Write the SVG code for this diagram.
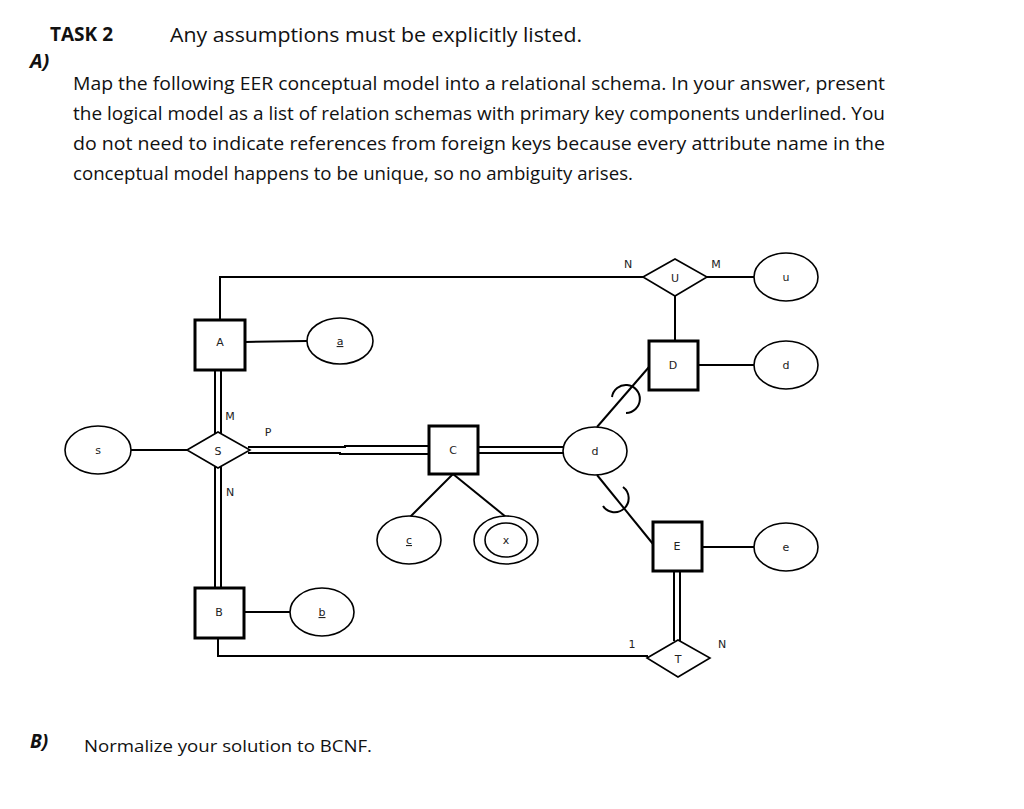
<svg xmlns="http://www.w3.org/2000/svg" width="1024" height="809" viewBox="0 0 1024 809">
<style>
.t{font-family:"Open Sans","Liberation Sans",sans-serif;fill:#111}
.l{font-family:"DejaVu Sans","Liberation Sans",sans-serif;font-size:11px;fill:#222;text-anchor:middle}
.e{fill:#fff;stroke:#000;stroke-width:1.6}
.b{fill:#fff;stroke:#000;stroke-width:3}
.c line,.c path,.c polyline{stroke:#000;stroke-width:2;fill:none}
</style>
<rect width="1024" height="809" fill="#fff"/>
<text class="t" x="50" y="41" font-size="19" font-weight="bold">TASK 2</text>
<text class="t" x="170" y="42" font-size="20" textLength="412" lengthAdjust="spacingAndGlyphs">Any assumptions must be explicitly listed.</text>
<text class="t" x="30" y="68" font-size="20" font-weight="bold" font-style="italic">A)</text>
<g class="t" font-size="18">
<text x="73" y="90" textLength="812" lengthAdjust="spacingAndGlyphs">Map the following EER conceptual model into a relational schema. In your answer, present</text>
<text x="73" y="120" textLength="812" lengthAdjust="spacingAndGlyphs">the logical model as a list of relation schemas with primary key components underlined. You</text>
<text x="73" y="150" textLength="812" lengthAdjust="spacingAndGlyphs">do not need to indicate references from foreign keys because every attribute name in the</text>
<text x="73" y="180" textLength="560" lengthAdjust="spacingAndGlyphs">conceptual model happens to be unique, so no ambiguity arises.</text>
</g>
<text class="t" x="30" y="748" font-size="19" font-weight="bold" font-style="italic">B)</text>
<text class="t" x="84" y="752" font-size="17" textLength="288" lengthAdjust="spacingAndGlyphs">Normalize your solution to BCNF.</text>
<g class="c" id="connectors">
<polyline points="220,320 220,277 643,277"/>
<polyline points="218,638 218,656 648,656"/>
<line x1="245" y1="342" x2="307" y2="341"/>
<line x1="131" y1="450" x2="187" y2="450"/>
<line x1="244" y1="612" x2="290" y2="612"/>
<line x1="707" y1="277" x2="754" y2="277"/>
<line x1="675" y1="296" x2="675" y2="341"/>
<line x1="698" y1="365" x2="754" y2="365"/>
<line x1="702" y1="547" x2="754" y2="547"/>
<line x1="597" y1="427" x2="649" y2="367"/>
<line x1="597" y1="475" x2="653" y2="544"/>
<line x1="453" y1="474" x2="410" y2="517"/>
<line x1="453" y1="474" x2="506" y2="517"/>
<line x1="215" y1="370" x2="215" y2="435"/><line x1="221" y1="370" x2="221" y2="435"/>
<line x1="215" y1="465" x2="215" y2="588"/><line x1="221" y1="465" x2="221" y2="588"/>
<polyline points="248,447 345,447 345,446 429,446"/><polyline points="248,453 340,453 340,454 429,454"/>
<line x1="478" y1="447" x2="563" y2="447"/><line x1="478" y1="453" x2="563" y2="453"/>
<line x1="674" y1="571" x2="674" y2="641"/><line x1="680" y1="571" x2="680" y2="641"/>
<path d="M612 397 A14 14 0 1 1 626 413"/>
<path d="M623 487 A14 14 0 1 1 603 506"/>
</g>
<g class="l">
<text x="230" y="420">M</text><text x="268" y="436">P</text><text x="230" y="496">N</text>
<text x="628" y="268">N</text><text x="716" y="268">M</text>
<text x="632" y="648">1</text><text x="722" y="648">N</text>
</g>
<g id="A"><rect class="b" x="195" y="320" width="50" height="50"/><text class="l" x="220" y="346">A</text></g>
<g id="B"><rect class="b" x="195" y="588" width="49" height="50"/><text class="l" x="219" y="616">B</text></g>
<g id="C"><rect class="b" x="429" y="426" width="49" height="48"/><text class="l" x="453" y="454">C</text></g>
<g id="D"><rect class="b" x="649" y="341" width="49" height="49"/><text class="l" x="673" y="369">D</text></g>
<g id="E"><rect class="b" x="653" y="522" width="49" height="49"/><text class="l" x="677" y="550">E</text></g>
<g id="S"><polygon class="e" points="187,450 218,432 250,450 218,468"/><text class="l" x="218" y="455">S</text></g>
<g id="U"><polygon class="e" points="643,277 675,259 707,277 675,296"/><text class="l" x="675" y="282">U</text></g>
<g id="T"><polygon class="e" points="647,658 678,640 710,658 678,677"/><text class="l" x="678" y="663">T</text></g>
<g id="attr_a"><ellipse class="e" cx="340" cy="341" rx="33" ry="23"/><text class="l" x="340" y="345" text-decoration="underline">a</text></g>
<g id="attr_s"><ellipse class="e" cx="98" cy="450" rx="33" ry="24"/><text class="l" x="98" y="454">s</text></g>
<g id="attr_b"><ellipse class="e" cx="322" cy="612" rx="32" ry="24"/><text class="l" x="322" y="616" text-decoration="underline">b</text></g>
<g id="attr_u"><ellipse class="e" cx="786" cy="277" rx="32" ry="24"/><text class="l" x="786" y="281">u</text></g>
<g id="attr_d"><ellipse class="e" cx="786" cy="365" rx="32" ry="24"/><text class="l" x="786" y="369">d</text></g>
<g id="attr_e"><ellipse class="e" cx="786" cy="547" rx="32" ry="24"/><text class="l" x="786" y="551">e</text></g>
<g id="disjoint_d"><ellipse class="e" cx="595" cy="451" rx="32" ry="24"/><text class="l" x="595" y="455">d</text></g>
<g id="attr_c"><ellipse class="e" cx="409" cy="540" rx="32" ry="24"/><text class="l" x="409" y="544" text-decoration="underline">c</text></g>
<g id="attr_x"><ellipse class="e" cx="506" cy="540" rx="32" ry="24"/><ellipse class="e" cx="506" cy="540" rx="21" ry="17"/><text class="l" x="506" y="544">x</text></g>
</svg>
